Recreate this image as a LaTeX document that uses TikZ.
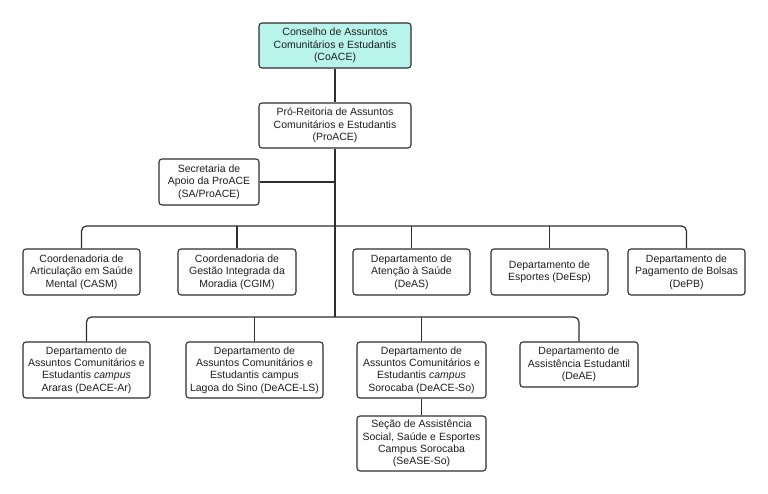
\documentclass[tikz,border=0pt]{standalone}
\usepackage{fontspec}
\setmainfont{Liberation Sans}
\definecolor{edge}{HTML}{2E2E2E}
\definecolor{teal}{HTML}{B8F3EC}
\definecolor{txt}{HTML}{1E1E1E}
\begin{document}
\begin{tikzpicture}[x=1pt,y={(0,-1pt)},
  box/.style={draw=edge,line width=1.1pt,rounded corners=3pt,fill=white,
    align=center,inner sep=1pt,text=txt,
    font=\fontsize{10.5}{12.3}\selectfont},
  conn/.style={draw=edge,line width=1.2pt}]
\useasboundingbox (0,0) rectangle (768,493);
\node[box,fill=teal,minimum width=152pt,minimum height=45pt] (coace) at (335,45.5) {Conselho de Assuntos\\Comunitários e Estudantis\\(CoACE)};
\node[box,minimum width=152pt,minimum height=45pt] (proace) at (335,125.5) {Pró-Reitoria de Assuntos\\Comunitários e Estudantis\\(ProACE)};
\node[box,minimum width=100pt,minimum height=46pt] (sec) at (209,182) {Secretaria de\\Apoio da ProACE\\(SA/ProACE)};
\node[box,minimum width=117pt,minimum height=46pt] (casm) at (81.5,272) {Coordenadoria de\\Articulação em Saúde\\Mental (CASM)};
\node[box,minimum width=118pt,minimum height=46pt] (cgim) at (237,272) {Coordenadoria de\\Gestão Integrada da\\Moradia (CGIM)};
\node[box,minimum width=117pt,minimum height=46pt] (deas) at (411.5,272) {Departamento de\\Atenção à Saúde\\(DeAS)};
\node[box,minimum width=117pt,minimum height=46pt] (deesp) at (549.5,272) {Departamento de\\Esportes (DeEsp)};
\node[box,minimum width=117pt,minimum height=46pt] (depb) at (686.5,272) {Departamento de\\Pagamento de Bolsas\\(DePB)};
\node[box,minimum width=127pt,minimum height=56pt] (ar) at (86.5,370) {Departamento de\\Assuntos Comunitários e\\Estudantis \textit{campus}\\Araras (DeACE-Ar)};
\node[box,minimum width=137pt,minimum height=56pt] (ls) at (254.5,370) {Departamento de\\Assuntos Comunitários e\\Estudantis campus\\Lagoa do Sino (DeACE-LS)};
\node[box,minimum width=129pt,minimum height=56pt] (so) at (421.5,370) {Departamento de\\Assuntos Comunitários e\\Estudantis \textit{campus}\\Sorocaba (DeACE-So)};
\node[box,minimum width=118pt,minimum height=45pt] (deae) at (579,364.5) {Departamento de\\Assistência Estudantil\\(DeAE)};
\node[box,minimum width=129pt,minimum height=55pt] (sease) at (421.5,443.5) {Seção de Assistência\\Social, Saúde e Esportes\\Campus Sorocaba\\(SeASE-So)};
\coordinate (b2) at (335,226);
\coordinate (b3) at (335,317);
\draw[conn] (coace.south) -- (proace.north);
\draw[conn] (proace.south) -- (b3);
\draw[conn] (sec.east) -- (sec.east -| proace.south);
\draw[conn,rounded corners=5pt] (casm.north) |- (b2) -| (depb.north);
\draw[conn] (cgim.north) -- (cgim.north |- b2);
\draw[conn] (deas.north) -- (deas.north |- b2);
\draw[conn] (deesp.north) -- (deesp.north |- b2);
\draw[conn,rounded corners=5pt] (ar.north) |- (b3) -| (deae.north);
\draw[conn] (ls.north) -- (ls.north |- b3);
\draw[conn] (so.north) -- (so.north |- b3);
\draw[conn] (so.south) -- (sease.north);
\end{tikzpicture}
\end{document}
